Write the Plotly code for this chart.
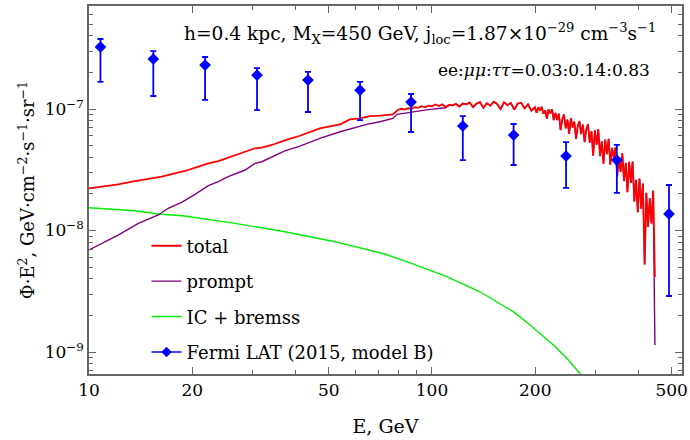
import plotly.graph_objects as go

FONT = "DejaVu Serif"

# ---------------- data ----------------
# Fermi LAT points: energy (GeV), flux, upper and lower error-bar ends
fermi_E = [10.8, 15.4, 21.8, 30.9, 43.5, 61.7, 86.9, 123, 173, 246, 346, 491]
fermi_phi = [3.24e-7, 2.58e-7, 2.30e-7, 1.90e-7, 1.73e-7, 1.43e-7, 1.14e-7,
             7.25e-8, 6.1e-8, 4.1e-8, 3.8e-8, 1.37e-8]
fermi_hi = [3.77e-7, 3.0e-7, 2.68e-7, 2.17e-7, 2.02e-7, 1.67e-7, 1.33e-7,
            8.75e-8, 7.53e-8, 5.35e-8, 5.06e-8, 2.37e-8]
fermi_lo = [1.67e-7, 1.28e-7, 1.19e-7, 9.8e-8, 9.45e-8, 8.1e-8, 6.47e-8,
            3.8e-8, 3.46e-8, 2.24e-8, 2.04e-8, 2.89e-9]

# Curves, stored as log10(E/GeV) and log10(flux)
total_lo_logE = [1.0, 1.085, 1.134, 1.183, 1.212, 1.241, 1.280, 1.319, 1.348, 1.377,
                 1.406, 1.445, 1.484, 1.504, 1.533, 1.571, 1.615, 1.673, 1.732, 1.761,
                 1.790, 1.819, 1.848, 1.886]
total_lo_logphi = [-7.653, -7.620, -7.593, -7.570, -7.557, -7.535, -7.510, -7.475, -7.447, -7.428,
                   -7.401, -7.365, -7.323, -7.318, -7.296, -7.258, -7.220, -7.159, -7.126, -7.085,
                   -7.077, -7.058, -7.055, -7.044]

# noisy high-energy part (total ~ prompt here)
hi_logE = [1.900, 1.910, 1.920, 1.930, 1.940, 1.950, 1.960, 1.970, 1.980, 1.990,
           2.000, 2.010, 2.020, 2.030, 2.040, 2.050, 2.060, 2.070, 2.080, 2.090,
           2.100, 2.110, 2.120, 2.130, 2.140, 2.150, 2.160, 2.170, 2.180, 2.190,
           2.200, 2.210, 2.220, 2.230, 2.240, 2.250, 2.260, 2.270, 2.280, 2.290,
           2.300, 2.305, 2.310, 2.315, 2.320, 2.325, 2.330, 2.335, 2.340, 2.345,
           2.350, 2.355, 2.360, 2.365, 2.370, 2.375, 2.380, 2.385, 2.390, 2.395,
           2.400, 2.405, 2.410, 2.415, 2.420, 2.425, 2.430, 2.435, 2.440, 2.445,
           2.450, 2.455, 2.460, 2.465, 2.470, 2.475, 2.480, 2.485, 2.490, 2.495,
           2.500, 2.505, 2.510, 2.515, 2.520, 2.525, 2.530, 2.535, 2.540, 2.545,
           2.550, 2.555, 2.560, 2.565, 2.570, 2.575, 2.580, 2.585, 2.590, 2.595,
           2.600, 2.605, 2.610, 2.615, 2.620, 2.625, 2.630, 2.635, 2.640, 2.645]
hi_logphi = [-7.008, -6.998, -7.004, -6.994, -6.999, -6.985, -6.990, -6.976, -6.986, -6.972,
             -6.978, -6.963, -6.975, -6.962, -6.984, -6.966, -6.970, -6.958, -6.980, -6.955,
             -6.962, -6.948, -6.985, -6.955, -6.944, -6.990, -6.952, -6.972, -6.940, -6.958,
             -7.000, -6.945, -6.968, -6.950, -7.005, -6.955, -6.948, -6.995, -6.962, -7.015,
             -6.986, -7.031, -6.985, -7.015, -6.982, -7.039, -7.011, -7.078, -7.002, -7.037,
             -7.002, -7.091, -7.032, -7.090, -7.038, -7.173, -7.085, -7.045, -7.159, -7.087,
             -7.204, -7.075, -7.153, -7.104, -7.247, -7.141, -7.100, -7.206, -7.128, -7.272,
             -7.168, -7.125, -7.277, -7.181, -7.385, -7.175, -7.293, -7.166, -7.388, -7.266,
             -7.450, -7.251, -7.371, -7.245, -7.458, -7.320, -7.403, -7.316, -7.550, -7.406,
             -7.518, -7.365, -7.593, -7.442, -7.685, -7.434, -7.608, -7.433, -7.761, -7.582,
             -7.850, -7.573, -7.820, -7.613, -8.280, -7.690, -7.971, -7.734, -7.942, -7.672]
total_end_logE = [2.650]
total_end_logphi = [-8.383]

prompt_lo_logE = [1.0, 1.047, 1.085, 1.144, 1.183, 1.202, 1.231, 1.270, 1.309, 1.348,
                  1.377, 1.406, 1.455, 1.484, 1.504, 1.533, 1.557, 1.571, 1.615, 1.673,
                  1.732, 1.781, 1.810, 1.848, 1.886, 1.898, 1.945, 1.994, 2.040]
prompt_lo_logphi = [-8.160, -8.092, -8.037, -7.941, -7.895, -7.872, -7.817, -7.768, -7.702, -7.631,
                    -7.598, -7.557, -7.502, -7.447, -7.434, -7.393, -7.360, -7.345, -7.305, -7.241,
                    -7.187, -7.146, -7.126, -7.105, -7.077, -7.044, -7.022, -7.003, -6.990]
prompt_end_logE = [2.650]
prompt_end_logphi = [-8.942]

ic_logE = [1.0, 1.134, 1.202, 1.280, 1.426, 1.571, 1.717, 1.863, 1.946, 2.043,
           2.140, 2.237, 2.286, 2.354, 2.393, 2.431, 2.460]
ic_logphi = [-7.812, -7.837, -7.864, -7.880, -7.941, -8.010, -8.092, -8.193, -8.276, -8.380,
             -8.504, -8.668, -8.778, -8.942, -9.052, -9.175, -9.330]

x_ticks = [10, 20, 50, 100, 200, 500]
x_minor = [30, 40, 60, 70, 80, 90, 300, 400]
y_ticks = [1e-9, 1e-8, 1e-7]
y_ticktext = ["10<sup>−9</sup>", "10<sup>−8</sup>", "10<sup>−7</sup>"]
y_minor = [7e-10, 8e-10, 9e-10] + [m * 1e-9 for m in range(2, 10)] + \
          [m * 1e-8 for m in range(2, 10)] + [m * 1e-7 for m in range(2, 8)]

# ---------------- build ----------------
def lin(v):
    return [10 ** a for a in v]

hi_start = hi_logE.index(2.050)
total_x = lin(total_lo_logE + hi_logE + total_end_logE)
total_y = lin(total_lo_logphi + hi_logphi + total_end_logphi)
prompt_x = lin(prompt_lo_logE + hi_logE[hi_start:] + prompt_end_logE)
prompt_y = lin(prompt_lo_logphi + hi_logphi[hi_start:] + prompt_end_logphi)
ic_x = lin(ic_logE)
ic_y = lin(ic_logphi)

fig = go.Figure()
fig.add_trace(go.Scatter(x=ic_x, y=ic_y, mode="lines", name="IC + bremss",
                         line=dict(color="#00ee00", width=1.4),
                         legendgroup="c", legendrank=3))
fig.add_trace(go.Scatter(x=prompt_x, y=prompt_y, mode="lines", name="prompt",
                         line=dict(color="#800080", width=1.4),
                         legendgroup="b", legendrank=2))
fig.add_trace(go.Scatter(x=total_x, y=total_y, mode="lines", name="total",
                         line=dict(color="#ff0000", width=1.8),
                         legendgroup="a", legendrank=1))
fig.add_trace(go.Scatter(
    x=fermi_E, y=fermi_phi, mode="markers", showlegend=False,
    marker=dict(symbol="diamond", size=9, color="#0000ff"),
    error_y=dict(type="data", symmetric=False,
                 array=[h - p for h, p in zip(fermi_hi, fermi_phi)],
                 arrayminus=[p - l for p, l in zip(fermi_phi, fermi_lo)],
                 color="#0000ff", thickness=1.8, width=3)))
fig.add_trace(go.Scatter(x=[None], y=[None], mode="lines+markers",
                         name="Fermi LAT (2015, model B)",
                         line=dict(color="#0000ff", width=1.4),
                         marker=dict(symbol="diamond", size=8, color="#0000ff"),
                         legendgroup="d", legendrank=4))

axcol = "#666666"
common = dict(showgrid=False, zeroline=False, showline=True, linecolor=axcol,
              linewidth=1.5, mirror="allticks", ticks="inside", ticklen=7,
              tickwidth=1, tickcolor=axcol, automargin=False,
              tickfont=dict(family=FONT, size=17, color="black"))

fig.update_xaxes(type="log", range=[1.0, 2.729], tickvals=x_ticks,
                 ticktext=[str(t) for t in x_ticks],
                 minor=dict(tickvals=x_minor, ticks="inside", ticklen=4,
                            tickcolor=axcol, tickwidth=1, showgrid=False),
                 title=dict(text="E, GeV", font=dict(family=FONT, size=19, color="black"),
                            standoff=21),
                 **common)
fig.update_yaxes(type="log", range=[-9.181, -6.152], tickvals=y_ticks,
                 ticktext=y_ticktext,
                 minor=dict(tickvals=y_minor, ticks="inside", ticklen=4,
                            tickcolor=axcol, tickwidth=1, showgrid=False),
                 title=dict(text="Φ·E<sup>2</sup>, GeV·cm<sup>−2</sup>·s<sup>−1</sup>·sr<sup>−1</sup>",
                            font=dict(family=FONT, size=18, color="black"), standoff=5),
                 **common)

fig.update_layout(
    width=690, height=440,
    margin=dict(l=89, r=8, t=6, b=66),
    plot_bgcolor="white", paper_bgcolor="white",
    font=dict(family=FONT, size=17, color="black"),
    legend=dict(x=0.097, y=0.398, xanchor="left", yanchor="top",
                bgcolor="rgba(0,0,0,0)", traceorder="grouped",
                tracegroupgap=9, font=dict(family=FONT, size=18, color="black")),
    annotations=[
        dict(text="h=0.4 kpc, M<sub>X</sub>=450 GeV, j<sub>loc</sub>=1.87×10<sup>−29</sup> cm<sup>−3</sup>s<sup>−1</sup>",
             xref="paper", yref="paper", x=0.9595, y=0.9266, xanchor="right", yanchor="middle",
             showarrow=False, font=dict(family=FONT, size=18.6, color="black")),
        dict(text="ee:<i>μμ</i>:<i>ττ</i>=0.03:0.14:0.83",
             xref="paper", yref="paper", x=0.949, y=0.826, xanchor="right", yanchor="middle",
             showarrow=False, font=dict(family=FONT, size=17, color="black")),
    ],
)

fig.write_html("out.html")
